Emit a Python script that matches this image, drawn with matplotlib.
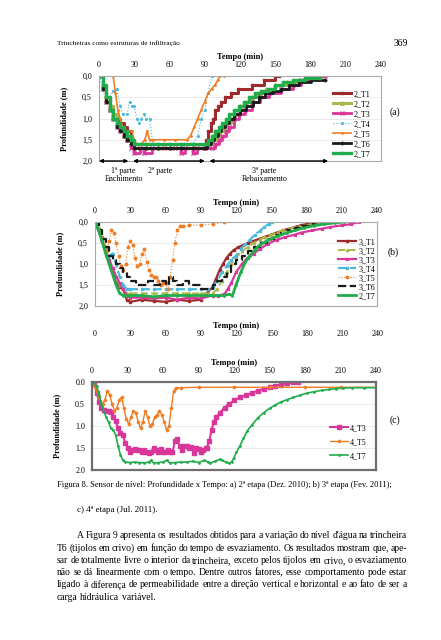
import matplotlib
matplotlib.use('Agg')
import matplotlib.pyplot as plt
from matplotlib.ticker import FuncFormatter

W, H = 441, 640
plt.rcParams['font.family'] = ['Liberation Serif', 'DejaVu Serif']

# ---------------- chart (a): 2a etapa ----------------
A_T1_MIN = [0, 3, 6, 9, 12, 15, 18, 21, 24, 27, 30, 40, 50, 60, 70, 80, 88, 91, 93, 95, 97, 99, 101, 104, 107, 112, 118, 130, 140, 150, 153]
A_T1_DEP = [0, 0.3, 0.5, 0.7, 0.9, 1.0, 1.1, 1.2, 1.3, 1.5, 1.7, 1.7, 1.7, 1.7, 1.7, 1.7, 1.7, 1.5, 1.3, 1.1, 1.0, 0.8, 0.7, 0.6, 0.5, 0.4, 0.3, 0.2, 0.1, 0.0, 0.0]
A_T2_MIN = [0, 3, 6, 9, 12, 15, 18, 21, 24, 27, 30, 40, 50, 60, 70, 80, 90, 94, 97, 100, 103, 106, 109, 112, 116, 120, 125, 130, 136, 142, 150, 160, 170, 176, 180]
A_T2_DEP = [0, 0.2, 0.5, 0.7, 0.9, 1.1, 1.2, 1.4, 1.5, 1.6, 1.7, 1.7, 1.7, 1.7, 1.7, 1.7, 1.7, 1.6, 1.5, 1.4, 1.3, 1.2, 1.1, 1.0, 0.9, 0.7, 0.6, 0.5, 0.4, 0.3, 0.2, 0.15, 0.1, 0.0, 0.0]
A_T3_MIN = [0, 3, 6, 9, 12, 15, 18, 21, 24, 27, 30, 35, 38, 45, 55, 65, 70, 73, 80, 83, 90, 96, 99, 102, 105, 108, 111, 115, 119, 124, 130, 137, 145, 155, 165, 172, 180, 192]
A_T3_DEP = [0, 0.3, 0.6, 0.8, 1.0, 1.2, 1.3, 1.4, 1.5, 1.7, 1.8, 1.7, 1.8, 1.7, 1.7, 1.7, 1.8, 1.7, 1.8, 1.7, 1.7, 1.7, 1.6, 1.5, 1.4, 1.3, 1.2, 1.0, 0.9, 0.8, 0.6, 0.5, 0.4, 0.3, 0.2, 0.1, 0.0, 0.0]
A_T4_MIN = [0, 3, 6, 9, 12, 15, 18, 20, 24, 26, 28, 30, 32, 34, 36, 38, 40, 43, 46, 50, 60, 70, 80, 84, 87, 90, 93, 96]
A_T4_DEP = [0, 0.3, 0.55, 0.5, 0.35, 0.3, 0.7, 0.9, 0.9, 0.6, 0.7, 0.7, 1.0, 1.1, 1.0, 0.9, 1.0, 1.0, 1.6, 1.6, 1.6, 1.6, 1.6, 1.4, 1.0, 0.8, 0.4, 0.0]
A_T5_MIN = [0, 12, 14, 16, 18, 20, 22, 25, 28, 30, 32, 36, 39, 41, 43, 46, 55, 65, 75, 78, 81, 84, 87, 90, 93, 96, 99, 101, 103, 106]
A_T5_DEP = [0, 0, 0.4, 0.8, 1.0, 1.2, 1.3, 1.3, 1.3, 1.5, 1.6, 1.6, 1.5, 1.3, 1.5, 1.5, 1.5, 1.5, 1.5, 1.4, 1.2, 1.0, 0.8, 0.6, 0.4, 0.3, 0.2, 0.1, 0.0, 0.0]
A_T6_MIN = [0, 3, 6, 9, 12, 15, 18, 21, 24, 27, 30, 40, 50, 60, 70, 80, 90, 92, 95, 98, 101, 104, 107, 111, 115, 120, 125, 131, 136, 141, 148, 155, 162, 170, 180, 192]
A_T6_DEP = [0, 0.3, 0.6, 0.8, 1.0, 1.2, 1.3, 1.4, 1.5, 1.6, 1.7, 1.7, 1.7, 1.7, 1.7, 1.7, 1.7, 1.6, 1.5, 1.4, 1.3, 1.2, 1.1, 1.0, 0.9, 0.8, 0.7, 0.6, 0.5, 0.4, 0.35, 0.3, 0.2, 0.15, 0.1, 0.1]
A_T7_MIN = [0, 3, 6, 9, 12, 15, 18, 21, 24, 27, 30, 40, 50, 60, 70, 80, 90, 93, 96, 99, 102, 105, 108, 111, 115, 119, 123, 128, 133, 138, 144, 150, 157, 165, 175, 188]
A_T7_DEP = [0, 0.2, 0.5, 0.8, 1.0, 1.1, 1.2, 1.3, 1.4, 1.5, 1.6, 1.6, 1.6, 1.6, 1.6, 1.6, 1.6, 1.5, 1.4, 1.3, 1.2, 1.1, 1.0, 0.9, 0.8, 0.7, 0.6, 0.5, 0.4, 0.35, 0.3, 0.2, 0.15, 0.1, 0.05, 0.05]
A_PHASES = [(0, 25), (29, 90), (94, 195)]
A_PHASE_LABELS = [(21, '1ª parte\nEnchimento'), (52, '2ª parte'), (141, '3ª parte\nRebaixamento')]

# ---------------- chart (b): 3a etapa ----------------
B_T1_MIN = [0, 3, 6, 9, 12, 15, 18, 21, 24, 27, 30, 40, 50, 60, 70, 80, 90, 95, 100, 103, 106, 109, 112, 115, 118, 122, 126, 130, 135, 140, 145, 150, 155, 160, 165, 170, 175, 180, 185, 188]
B_T1_DEP = [0, 0.2, 0.45, 0.7, 0.95, 1.2, 1.45, 1.55, 1.6, 1.85, 1.9, 1.85, 1.88, 1.9, 1.85, 1.88, 1.85, 1.7, 1.55, 1.35, 1.15, 1.0, 0.85, 0.75, 0.67, 0.6, 0.55, 0.5, 0.45, 0.4, 0.35, 0.3, 0.25, 0.2, 0.16, 0.12, 0.08, 0.05, 0.02, 0.0]
B_T2_MIN = [0, 3, 6, 9, 12, 15, 18, 21, 24, 27, 30, 40, 50, 60, 70, 80, 90, 100, 104, 108, 112, 116, 120, 125, 130, 135, 140, 145, 150, 155, 160, 165, 170, 175, 180, 185, 190, 195, 200]
B_T2_DEP = [0, 0.15, 0.4, 0.65, 0.9, 1.1, 1.3, 1.5, 1.6, 1.7, 1.7, 1.7, 1.7, 1.7, 1.7, 1.7, 1.7, 1.7, 1.6, 1.4, 1.2, 1.0, 0.85, 0.7, 0.6, 0.5, 0.42, 0.35, 0.3, 0.25, 0.2, 0.16, 0.12, 0.1, 0.08, 0.05, 0.03, 0.02, 0.0]
B_T3_MIN = [0, 3, 6, 9, 12, 15, 18, 21, 24, 27, 30, 40, 50, 60, 70, 80, 90, 100, 105, 110, 113, 116, 120, 125, 130, 135, 140, 147, 155, 162, 170, 176, 185, 193, 200, 210, 218, 225]
B_T3_DEP = [0, 0.2, 0.45, 0.7, 0.9, 1.1, 1.3, 1.45, 1.6, 1.75, 1.8, 1.8, 1.82, 1.8, 1.85, 1.8, 1.82, 1.75, 1.75, 1.72, 1.6, 1.45, 1.2, 1.0, 0.85, 0.75, 0.65, 0.52, 0.42, 0.36, 0.3, 0.25, 0.2, 0.16, 0.12, 0.08, 0.05, 0.0]
B_T4_MIN = [0, 3, 6, 9, 12, 15, 18, 21, 24, 27, 30, 40, 50, 60, 70, 80, 90, 96, 100, 104, 108, 112, 116, 120, 124, 128, 132, 136, 140, 144, 148, 151]
B_T4_DEP = [0, 0.2, 0.45, 0.65, 0.8, 0.75, 1.0, 1.3, 1.5, 1.6, 1.6, 1.6, 1.6, 1.6, 1.6, 1.6, 1.6, 1.6, 1.55, 1.4, 1.2, 1.05, 0.9, 0.8, 0.65, 0.52, 0.42, 0.3, 0.22, 0.12, 0.05, 0.0]
B_T5_MIN = [0, 2, 4, 6, 8, 10, 12, 14, 16, 18, 20, 22, 24, 26, 28, 30, 32, 34, 36, 38, 40, 42, 44, 46, 48, 50, 52, 54, 56, 58, 60, 62, 64, 66, 68, 70, 72, 75, 80, 90, 100, 110]
B_T5_DEP = [0, 0.05, 0.2, 0.35, 0.55, 0.7, 0.45, 0.2, 0.25, 0.5, 0.8, 1.05, 1.15, 1.0, 0.6, 0.45, 0.55, 0.85, 1.05, 1.0, 0.75, 0.65, 0.95, 1.15, 1.25, 1.3, 1.3, 1.4, 1.5, 1.45, 1.45, 1.6, 1.3, 0.9, 0.5, 0.2, 0.1, 0.1, 0.08, 0.07, 0.05, 0.0]
B_T6_MIN = [0, 3, 6, 9, 12, 15, 18, 21, 24, 27, 30, 35, 40, 45, 50, 55, 60, 63, 66, 70, 75, 80, 85, 90, 95, 100, 104, 108, 112, 116, 120, 125, 130, 135, 140, 146, 152, 158, 164, 170, 176, 182, 186]
B_T6_DEP = [0, 0.2, 0.4, 0.6, 0.8, 0.9, 1.0, 1.1, 1.2, 1.3, 1.4, 1.5, 1.5, 1.4, 1.5, 1.4, 1.5, 1.3, 1.4, 1.5, 1.4, 1.5, 1.5, 1.6, 1.6, 1.5, 1.4, 1.3, 1.2, 1.0, 0.9, 0.8, 0.7, 0.6, 0.5, 0.4, 0.3, 0.25, 0.2, 0.15, 0.1, 0.05, 0.0]
B_T7_MIN = [0, 3, 6, 9, 12, 15, 18, 21, 24, 27, 30, 40, 50, 60, 70, 80, 90, 100, 110, 114, 117, 120, 124, 128, 132, 136, 140, 145, 150, 156, 163, 170, 178, 186, 195, 204, 212]
B_T7_DEP = [0, 0.2, 0.45, 0.75, 1.0, 1.25, 1.5, 1.7, 1.75, 1.75, 1.75, 1.75, 1.78, 1.75, 1.75, 1.75, 1.75, 1.75, 1.75, 1.72, 1.75, 1.5, 1.2, 0.95, 0.8, 0.67, 0.55, 0.47, 0.4, 0.33, 0.26, 0.2, 0.14, 0.09, 0.05, 0.02, 0.0]

# ---------------- chart (c): 4a etapa ----------------
C_T3_MIN = [0, 2, 4, 6, 8, 10, 12, 14, 16, 18, 20, 22, 24, 26, 28, 30, 32, 34, 36, 38, 40, 42, 44, 46, 48, 50, 52, 54, 56, 58, 60, 62, 64, 66, 68, 70, 72, 74, 76, 78, 80, 82, 84, 86, 88, 90, 92, 94, 96, 97, 99, 101, 103, 105, 108, 112, 116, 120, 125, 130, 135, 140, 145, 150, 155, 160, 165, 170, 174]
C_T3_DEP = [0, 0.05, 0.25, 0.45, 0.6, 0.64, 0.65, 0.65, 0.68, 0.8, 0.88, 1.05, 1.15, 1.2, 1.38, 1.5, 1.58, 1.55, 1.52, 1.55, 1.55, 1.58, 1.55, 1.6, 1.62, 1.58, 1.5, 1.55, 1.58, 1.52, 1.58, 1.6, 1.55, 1.58, 1.6, 1.35, 1.3, 1.45, 1.55, 1.45, 1.45, 1.5, 1.48, 1.62, 1.5, 1.52, 1.6, 1.55, 1.5, 1.5, 1.35, 1.1, 0.9, 0.8, 0.7, 0.58, 0.5, 0.42, 0.35, 0.3, 0.25, 0.2, 0.16, 0.12, 0.08, 0.06, 0.03, 0.01, 0.0]
C_T5_MIN = [0, 3, 6, 9, 11, 13, 15, 17, 19, 21, 23, 25, 27, 29, 31, 33, 35, 37, 39, 41, 43, 45, 47, 49, 51, 53, 55, 57, 59, 61, 63, 65, 67, 69, 71, 75, 90, 120, 150, 180, 210, 240]
C_T5_DEP = [0, 0.15, 0.35, 0.5, 0.4, 0.2, 0.3, 0.5, 0.65, 0.6, 0.4, 0.35, 0.6, 0.85, 0.95, 0.8, 0.65, 0.7, 0.9, 1.05, 0.9, 0.65, 0.8, 1.0, 0.95, 0.8, 0.75, 0.65, 0.75, 0.9, 1.1, 1.0, 0.6, 0.2, 0.13, 0.13, 0.12, 0.12, 0.12, 0.12, 0.12, 0.12]
C_T7_MIN = [0, 2, 4, 6, 8, 10, 12, 14, 16, 18, 20, 22, 24, 26, 28, 32, 36, 40, 44, 48, 50, 52, 56, 60, 63, 66, 70, 75, 80, 85, 90, 95, 98, 100, 104, 108, 110, 113, 116, 118, 120, 122, 125, 128, 131, 135, 140, 145, 150, 155, 160, 165, 170, 176, 182, 188, 194, 200, 206, 212, 220, 230, 240]
C_T7_DEP = [0, 0.02, 0.1, 0.3, 0.5, 0.68, 0.8, 0.92, 1.05, 1.1, 1.2, 1.45, 1.65, 1.78, 1.82, 1.83, 1.82, 1.83, 1.84, 1.82, 1.78, 1.84, 1.83, 1.82, 1.78, 1.84, 1.83, 1.82, 1.82, 1.8, 1.83, 1.78, 1.82, 1.84, 1.8, 1.76, 1.78, 1.82, 1.84, 1.82, 1.72, 1.6, 1.45, 1.28, 1.12, 0.98, 0.82, 0.7, 0.6, 0.52, 0.45, 0.4, 0.35, 0.3, 0.25, 0.22, 0.19, 0.17, 0.15, 0.14, 0.13, 0.13, 0.13]

X_TICKS = [0, 30, 60, 90, 120, 150, 180, 210, 240]
Y_TICKS = [0.0, 0.5, 1.0, 1.5, 2.0]

HEADER = 'Trincheiras como estruturas de infiltração'
PAGE = '369'
CAPTION = 'Figura 8. Sensor de nível: Profundidade x Tempo: a) 2ª etapa (Dez. 2010); b) 3ª etapa (Fev. 2011);'
CAPTION2 = 'c) 4ª etapa (Jul. 2011).'
BODY = [
    "A Figura 9 apresenta os resultados obtidos para a variação do nível d'água na trincheira",
    "T6 (tijolos em crivo) em função do tempo de esvaziamento. Os resultados mostram que, ape-",
    "sar de totalmente livre o interior da trincheira, exceto pelos tijolos em crivo, o esvaziamento",
    "não se dá linearmente com o tempo. Dentre outros fatores, esse comportamento pode estar",
    "ligado à diferença de permeabilidade entre a direção vertical e horizontal e ao fato de ser a",
    "carga hidráulica variável.",
]

C_RED = '#9e2a2b'
C_OLIVE = '#a8b84a'
C_MAG = '#d9369a'
C_CYAN = '#4cb8dc'
C_ORANGE = '#f07d24'
C_BLACK = '#1a1a1a'
C_GREEN = '#21ad4b'

fig = plt.figure(figsize=(W / 100, H / 100), dpi=100)


def px_axes(x0, y0, x1, y1):
    return fig.add_axes([x0 / W, 1 - y1 / H, (x1 - x0) / W, (y1 - y0) / H])


def setup(ax, comma, spine_color, spine_lw):
    ax.set_xlim(0, 240)
    ax.set_ylim(2.0, 0.0)
    ax.set_xticks(X_TICKS)
    ax.set_yticks(Y_TICKS)
    ax.xaxis.tick_top()
    ax.xaxis.set_label_position('top')
    ax.set_xlabel('Tempo (min)', fontsize=6, fontweight='bold', labelpad=1.5)
    ax.set_ylabel('Profundidade (m)', fontsize=6, fontweight='bold')
    ax.yaxis.set_label_coords(-0.11, 0.5)
    ax.tick_params(length=0, labelsize=5.8, pad=5)
    if comma:
        ax.yaxis.set_major_formatter(FuncFormatter(lambda v, p: f'{v:.1f}'.replace('.', ',')))
    else:
        ax.yaxis.set_major_formatter(FuncFormatter(lambda v, p: f'{v:.1f}'))
    ax.grid(axis='y', color='#e0e0e0', lw=0.5)
    ax.set_axisbelow(True)
    for s in ax.spines.values():
        s.set_color(spine_color)
        s.set_linewidth(spine_lw)


def legend_at(ax, x, y, spacing, hl=2.2):
    ax.legend(loc='upper left', bbox_to_anchor=(x / W, 1 - y / H), bbox_transform=fig.transFigure,
              frameon=False, fontsize=5.8, borderpad=0, borderaxespad=0, handlelength=hl,
              handletextpad=0.3, labelspacing=spacing)


# ---- (a)
ax = px_axes(99, 76, 381, 161)
setup(ax, True, '#a8a8a8', 0.8)
ax.plot(A_T1_MIN, A_T1_DEP, drawstyle='steps-post', color=C_RED, lw=2.2, marker='s', ms=1.8, label='2_T1')
ax.plot(A_T2_MIN, A_T2_DEP, drawstyle='steps-post', color=C_OLIVE, lw=2.2, marker='^', ms=2.5, label='2_T2')
ax.plot(A_T3_MIN, A_T3_DEP, drawstyle='steps-post', color=C_MAG, lw=2.0, marker='x', ms=2.5, label='2_T3')
ax.plot(A_T4_MIN, A_T4_DEP, color=C_CYAN, lw=0.8, ls=':', marker='.', ms=2.5, label='2_T4')
ax.plot(A_T5_MIN, A_T5_DEP, color=C_ORANGE, lw=1.2, marker='.', ms=2, label='2_T5')
ax.plot(A_T6_MIN, A_T6_DEP, drawstyle='steps-post', color=C_BLACK, lw=2.0, marker='+', ms=3, label='2_T6')
ax.plot(A_T7_MIN, A_T7_DEP, drawstyle='steps-post', color=C_GREEN, lw=2.4, marker='s', ms=1.8, label='2_T7')
legend_at(ax, 333, 90, 0.25)
for a, b in A_PHASES:
    ax.annotate('', xy=(b, 2.0), xytext=(a, 2.0), annotation_clip=False,
                arrowprops=dict(arrowstyle='<|-|>', color='black', lw=1.0, mutation_scale=5,
                                shrinkA=0, shrinkB=0))
for xm, lab in A_PHASE_LABELS:
    ax.annotate(lab, xy=(xm, 2.0), xytext=(0, -4.5), textcoords='offset points', ha='center', va='top',
                fontsize=5.8, linespacing=1.0, annotation_clip=False)
fig.text(395 / W, 1 - 112 / H, '(a)', fontsize=7, ha='center', va='center')

# ---- (b)
ax = px_axes(95, 222, 377, 306)
setup(ax, True, '#a8a8a8', 0.8)
ax.plot(B_T1_MIN, B_T1_DEP, color=C_RED, lw=1.6, marker='s', ms=2, label='3_T1')
ax.plot(B_T2_MIN, B_T2_DEP, color=C_OLIVE, lw=1.4, marker='^', ms=1.8, ls='--', label='3_T2')
ax.plot(B_T3_MIN, B_T3_DEP, color=C_MAG, lw=1.6, marker='x', ms=2, label='3_T3')
ax.plot(B_T4_MIN, B_T4_DEP, color=C_CYAN, lw=1.6, ls='--', marker='s', ms=1.5, label='3_T4')
ax.plot(B_T5_MIN, B_T5_DEP, color=C_ORANGE, lw=0.8, ls=':', marker='o', ms=1.8, label='3_T5')
ax.plot(B_T6_MIN, B_T6_DEP, drawstyle='steps-post', color=C_BLACK, lw=1.6, ls='--', label='3_T6')
ax.plot(B_T7_MIN, B_T7_DEP, color=C_GREEN, lw=2.0, marker='.', ms=2, label='2_T7')
legend_at(ax, 338, 238, 0.12)
fig.text(393 / W, 1 - 252 / H, '(b)', fontsize=7, ha='center', va='center')

# ---- (c) duplicated time header printed above the chart
axd = fig.add_axes([95 / W, 1 - 342 / H, 283 / W, 0.0001])
axd.set_xlim(0, 240)
axd.set_xticks(X_TICKS)
axd.set_yticks([])
axd.xaxis.tick_top()
axd.xaxis.set_label_position('top')
axd.set_xlabel('Tempo (min)', fontsize=6, fontweight='bold', labelpad=1.5)
axd.tick_params(length=0, labelsize=5.8, pad=3)
for s in axd.spines.values():
    s.set_visible(False)

ax = px_axes(92, 382, 376, 470)
setup(ax, False, '#6e6e6e', 1.6)
ax.plot(C_T3_MIN, C_T3_DEP, color=C_MAG, lw=1.5, marker='s', ms=2.4, label='4_T3')
ax.plot(C_T5_MIN, C_T5_DEP, color=C_ORANGE, lw=1.0, marker='D', ms=1.4, label='4_T5')
ax.plot(C_T7_MIN, C_T7_DEP, color=C_GREEN, lw=1.2, marker='.', ms=2, label='4_T7')
legend_at(ax, 330, 424, 0.75)
fig.text(395 / W, 1 - 420 / H, '(c)', fontsize=7, ha='center', va='center')

# ---- page text
fig.text(57 / W, 1 - 43 / H, HEADER, fontsize=5.2, va='center', ha='left')
fig.text(408 / W, 1 - 43 / H, PAGE, fontsize=7, va='center', ha='right')
fig.text(57 / W, 1 - 485 / H, CAPTION, fontsize=6.1, va='center', ha='left')
fig.text(77 / W, 1 - 510 / H, CAPTION2, fontsize=6.5, va='center', ha='left')

renderer = fig.canvas.get_renderer()


def justify(line, x0, x1, y, size, last=False):
    words = line.split()
    texts = [fig.text(0, 1 - y / H, w, fontsize=size, va='center', ha='left') for w in words]
    widths = [t.get_window_extent(renderer=renderer).width for t in texts]
    if last or len(words) == 1:
        gap = size * 0.28 * 100 / 72
    else:
        gap = (x1 - x0 - sum(widths)) / (len(words) - 1)
    x = x0
    for t, wd in zip(texts, widths):
        t.set_x(x / W)
        x += wd + gap


for i, line in enumerate(BODY):
    justify(line, 77 if i == 0 else 57, 407, 536 + 12.2 * i, 6.9, last=(i == len(BODY) - 1))

fig.savefig('out.png', dpi=100)
